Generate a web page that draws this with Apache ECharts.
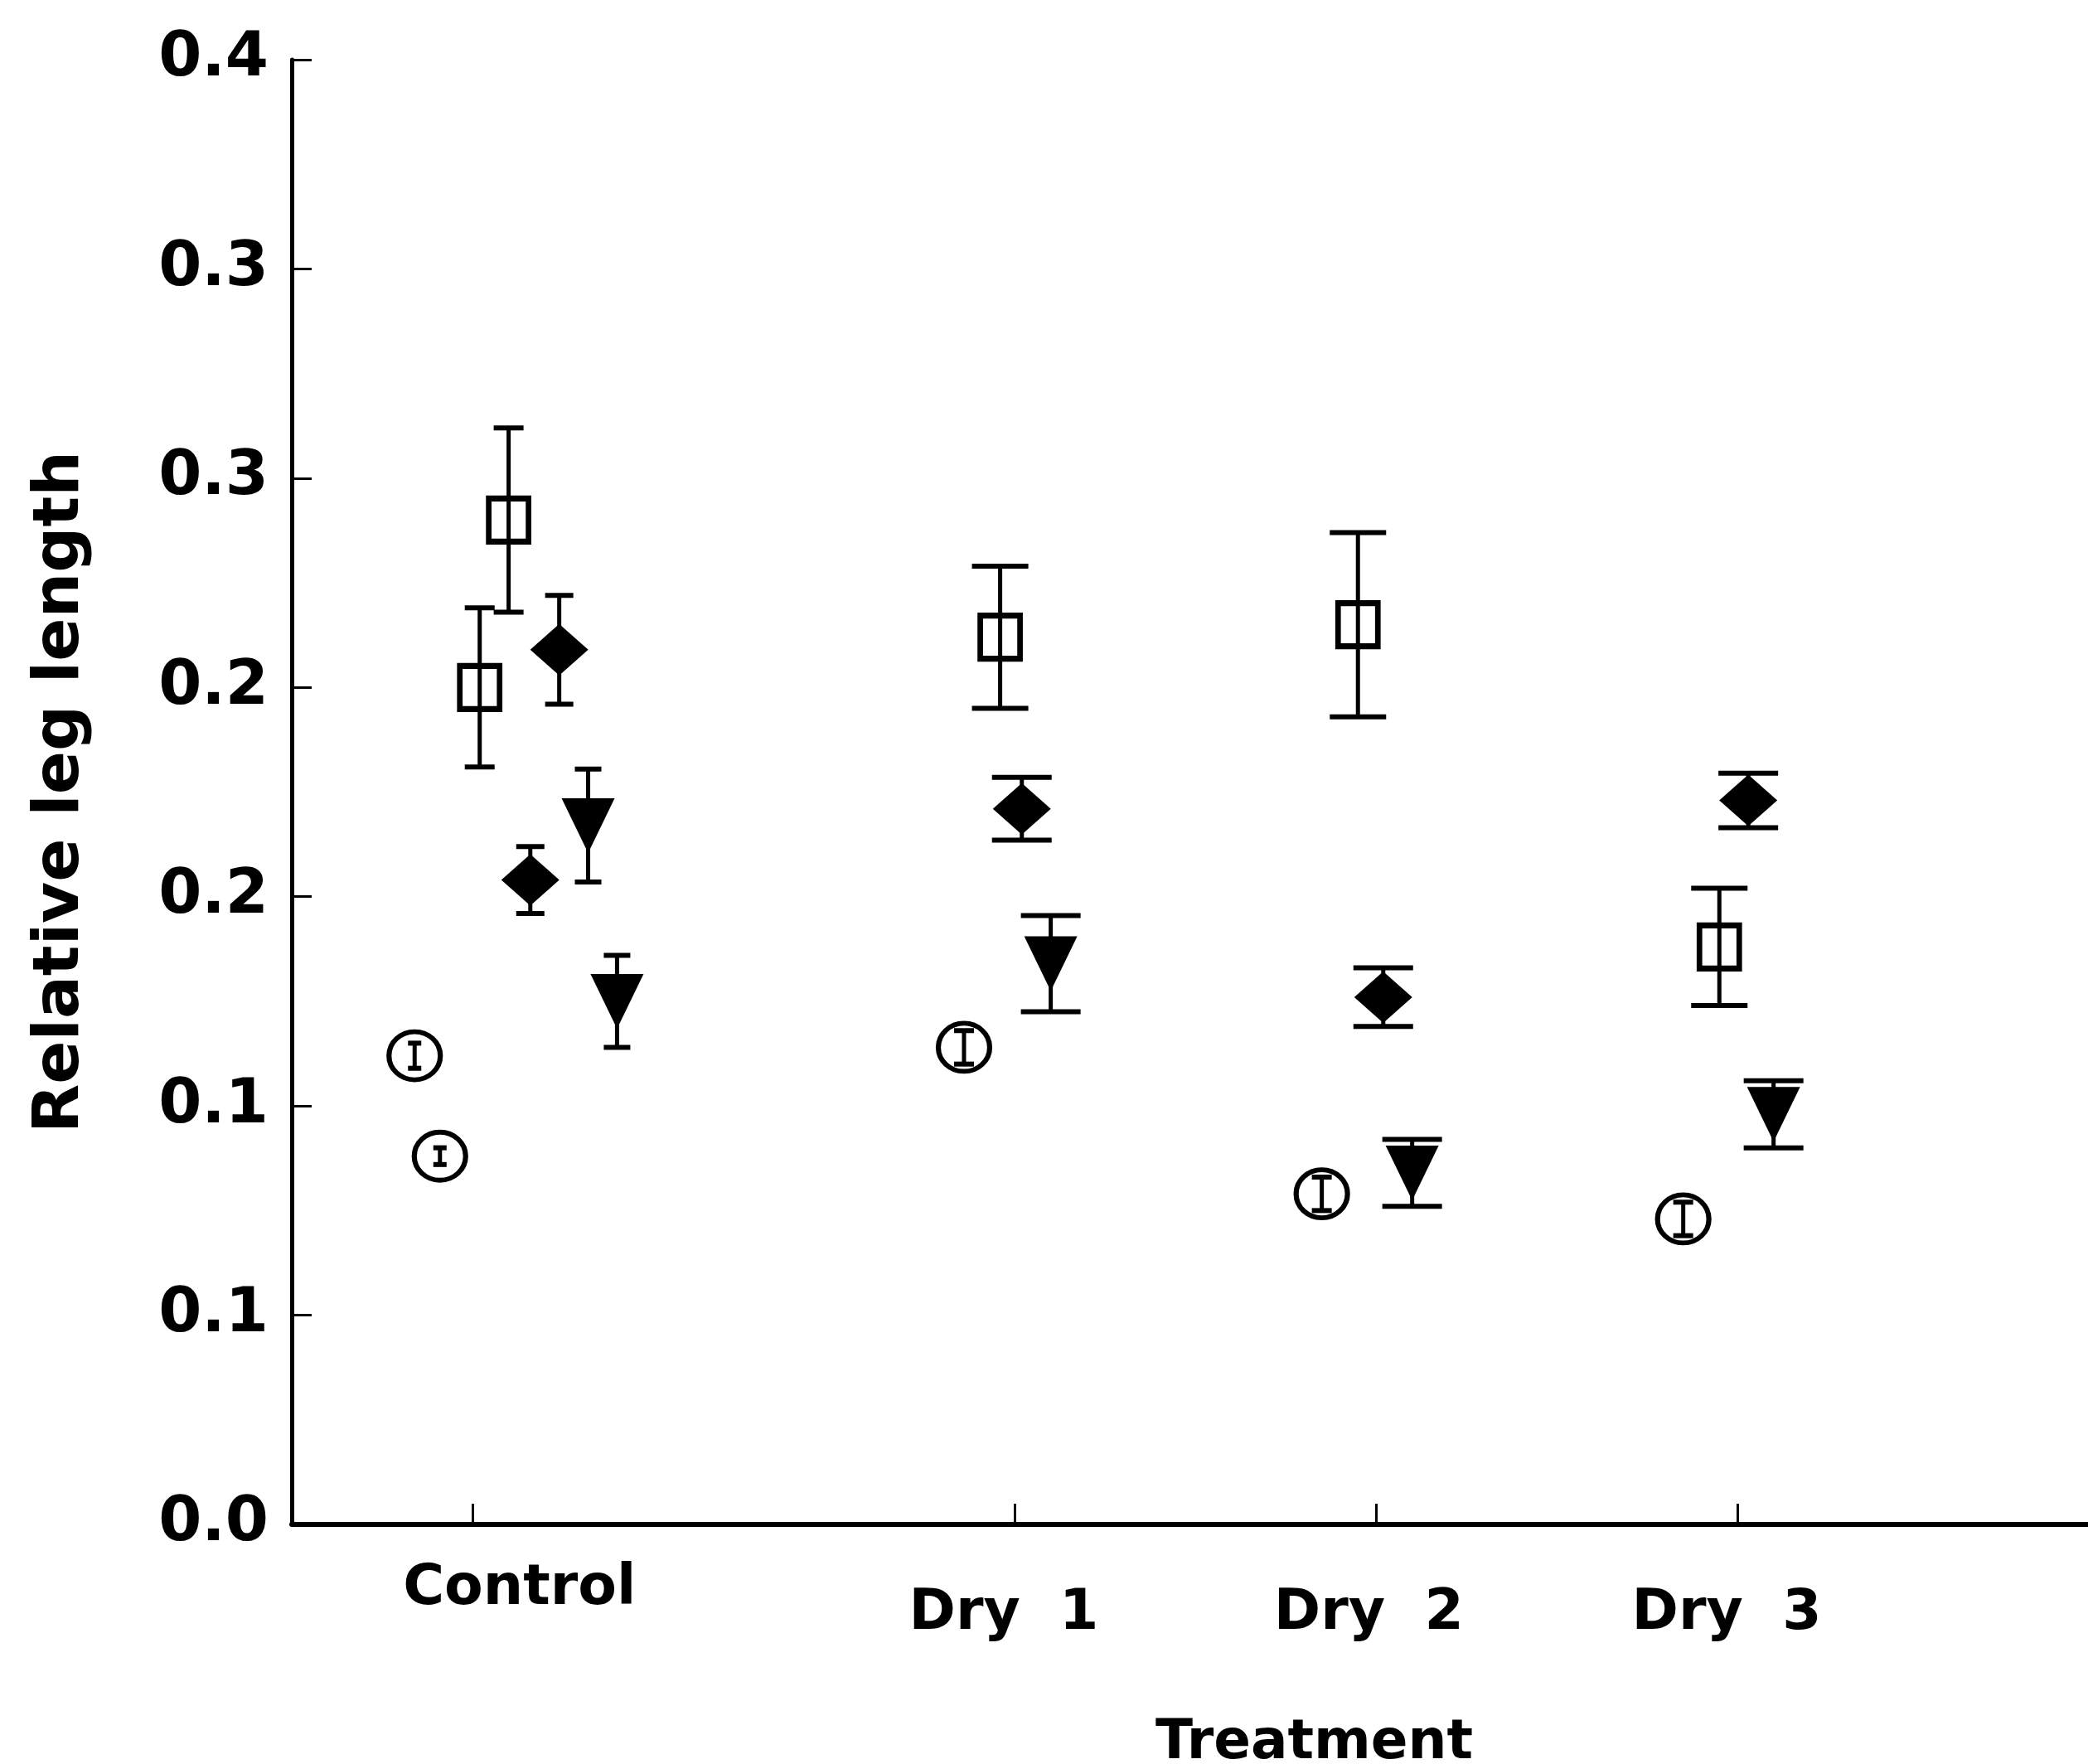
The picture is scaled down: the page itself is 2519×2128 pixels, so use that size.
<!DOCTYPE html>
<html>
<head>
<meta charset="utf-8">
<script src="https://cdn.jsdelivr.net/npm/echarts@6/dist/echarts.min.js"></script>
<style>
  html, body { margin: 0; padding: 0; background: #fff; }
  #chart { width: 2519px; height: 2128px; }
</style>
</head>
<body>
<div id="chart"></div>
<script>
// treatments and where they sit on the x axis
var groupNames = ['Control', 'Dry  1', 'Dry  2', 'Dry  3'];
var groupTicks = [0.5, 2, 3, 4];
var groupLabelPos = [0.63, 1.97, 2.98, 3.97];

// y tick labels as printed (0.05 steps, one decimal)
var yTickLabels = ['0.0', '0.1', '0.1', '0.2', '0.2', '0.3', '0.3', '0.4'];

// open circles
var circleX = [0.34, 0.41, 1.86, 2.85, 3.85];
var circleMean = [0.112, 0.088, 0.114, 0.079, 0.073];
var circleErr = [0.003, 0.002, 0.004, 0.004, 0.004];

// open squares
var squareX = [0.52, 0.60, 1.96, 2.95, 3.95];
var squareMean = [0.200, 0.240, 0.212, 0.215, 0.138];
var squareErr = [0.019, 0.022, 0.017, 0.022, 0.014];

// filled diamonds
var diamondX = [0.66, 0.74, 2.02, 3.02, 4.03];
var diamondMean = [0.154, 0.209, 0.171, 0.126, 0.173];
var diamondErr = [0.008, 0.013, 0.0075, 0.007, 0.0065];

// filled triangles (pointing down)
var triangleX = [0.82, 0.90, 2.10, 3.10, 4.10];
var triangleMean = [0.167, 0.125, 0.134, 0.084, 0.098];
var triangleErr = [0.0135, 0.011, 0.0115, 0.008, 0.008];

var FONT = 'DejaVu Sans';

function points(xs, ms) {
    return xs.map(function (x, i) { return [x, ms[i]]; });
}
function errPoints(xs, ms, es) {
    return xs.map(function (x, i) { return [x, ms[i], es[i]]; });
}

function errorBars(name, xs, ms, es, capCtrl, capDry) {
    return {
        type: 'custom',
        name: name + ' err',
        z: 5,
        silent: true,
        data: errPoints(xs, ms, es),
        encode: { x: 0, y: 1 },
        renderItem: function (params, api) {
            var x = api.value(0), m = api.value(1), e = api.value(2);
            var top = api.coord([x, m + e]);
            var bot = api.coord([x, m - e]);
            var half = x < 1.2 ? capCtrl : capDry;
            var cap = { stroke: '#000', lineWidth: 6 };
            return {
                type: 'group',
                children: [
                    { type: 'line', shape: { x1: top[0], y1: top[1], x2: bot[0], y2: bot[1] }, style: { stroke: '#000', lineWidth: 5 } },
                    { type: 'line', shape: { x1: top[0] - half, y1: top[1], x2: top[0] + half, y2: top[1] }, style: cap },
                    { type: 'line', shape: { x1: bot[0] - half, y1: bot[1], x2: bot[0] + half, y2: bot[1] }, style: cap }
                ]
            };
        }
    };
}

var myChart = echarts.init(document.getElementById('chart'));

var option = {
    backgroundColor: '#fff',
    animation: false,
    grid: { left: 352, right: 0, top: 72, bottom: 289, outerBoundsMode: 'none', containLabel: false },
    xAxis: {
        type: 'value',
        min: 0,
        max: 4.97,
        name: 'Treatment',
        nameLocation: 'middle',
        nameGap: 232,
        nameTextStyle: { fontFamily: FONT, fontWeight: 'bold', fontSize: 66, color: '#000', padding: [0, 0, 0, 300] },
        axisLine: { lineStyle: { color: '#000', width: 6 } },
        axisTick: { inside: true, length: 25, customValues: groupTicks, lineStyle: { color: '#000', width: 3 } },
        axisLabel: {
            customValues: groupLabelPos,
            margin: 38,
            fontFamily: FONT, fontWeight: 'bold', fontSize: 68, color: '#000',
            formatter: function (v) {
                for (var i = 0; i < groupLabelPos.length; i++) {
                    if (Math.abs(groupLabelPos[i] - v) < 1e-6) {
                        return (i === 0 ? '{c|' : '{d|') + groupNames[i] + '}';
                    }
                }
                return '';
            },
            rich: {
                c: { fontFamily: FONT, fontWeight: 'bold', fontSize: 68, color: '#000', lineHeight: 80 },
                d: { fontFamily: FONT, fontWeight: 'bold', fontSize: 68, color: '#000', lineHeight: 140 }
            }
        },
        splitLine: { show: false }
    },
    yAxis: {
        type: 'value',
        min: 0,
        max: 0.35,
        interval: 0.05,
        name: 'Relative leg length',
        nameLocation: 'middle',
        nameRotate: 90,
        nameGap: 240,
        nameTextStyle: { fontFamily: FONT, fontWeight: 'bold', fontSize: 77, color: '#000' },
        axisLine: { show: true, lineStyle: { color: '#000', width: 5 } },
        axisTick: { inside: true, length: 24, lineStyle: { color: '#000', width: 3 } },
        axisLabel: {
            margin: 28,
            fontFamily: FONT, fontWeight: 'bold', fontSize: 75, color: '#000',
            formatter: function (v) {
                return yTickLabels[Math.round(v / 0.05)];
            }
        },
        splitLine: { show: false }
    },
    series: [
        {
            type: 'scatter', name: 'circle', z: 3,
            symbol: 'circle', symbolSize: [62, 58],
            itemStyle: { color: '#fff', borderColor: '#000', borderWidth: 6, opacity: 1 },
            data: points(circleX, circleMean)
        },
        {
            type: 'scatter', name: 'square', z: 3,
            symbol: 'rect', symbolSize: [48, 52],
            itemStyle: { color: '#fff', borderColor: '#000', borderWidth: 7, opacity: 1 },
            data: points(squareX, squareMean)
        },
        {
            type: 'scatter', name: 'diamond', z: 3,
            symbol: 'diamond', symbolSize: [70, 62],
            itemStyle: { color: '#000', opacity: 1 },
            data: points(diamondX, diamondMean)
        },
        {
            type: 'scatter', name: 'triangle', z: 3,
            symbol: 'triangle', symbolRotate: 180, symbolSize: [64, 66],
            itemStyle: { color: '#000', opacity: 1 },
            data: points(triangleX, triangleMean)
        },
        errorBars('circle', circleX, circleMean, circleErr, 8, 12),
        errorBars('square', squareX, squareMean, squareErr, 18, 34),
        errorBars('diamond', diamondX, diamondMean, diamondErr, 17, 36),
        errorBars('triangle', triangleX, triangleMean, triangleErr, 16, 36)
    ]
};

myChart.setOption(option);
window.addEventListener('resize', function () {
    myChart.resize();
});
</script>
</body>
</html>
